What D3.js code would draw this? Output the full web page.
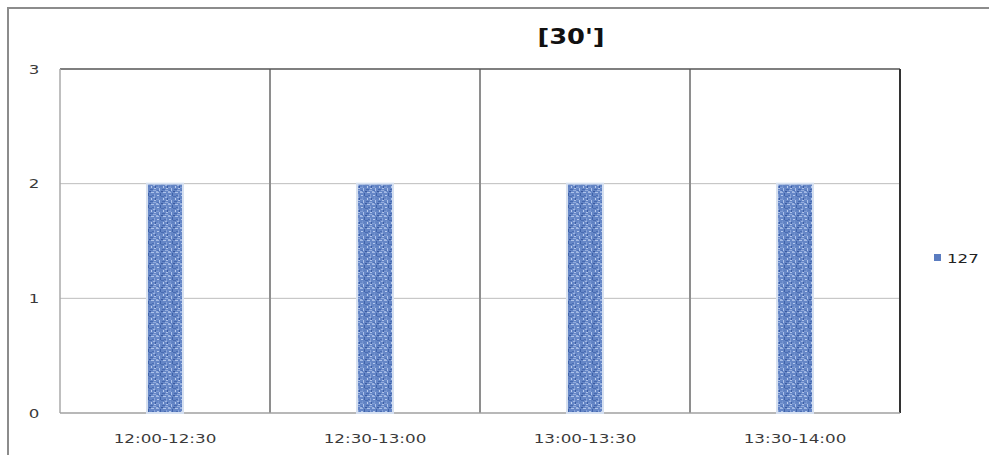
<!DOCTYPE html>
<html><head><meta charset="utf-8">
<script src="https://cdn.jsdelivr.net/npm/d3@7"></script>
<style>body{margin:0;background:#fff}svg{display:block}</style>
</head><body>
<script>
const categories = ["12:00-12:30","12:30-13:00","13:00-13:30","13:30-14:00"];
const values = [2,2,2,2];
const yTicks = [0,1,2,3];
const seriesName = "127";
const title = "[30']";

const W=989,H=455;
const FONT="DejaVu Sans, Verdana, sans-serif";
const svg=d3.select("body").append("svg").attr("width",W).attr("height",H);
const m={l:60,t:69,r:900,b:413};
const x=d3.scaleBand().domain(categories).range([m.l,m.r]).paddingInner(0).paddingOuter(0);
const y=d3.scaleLinear().domain([0,3]).range([m.b,m.t]);

// texture pattern (style only)
const defs=svg.append("defs");
const pat=defs.append("pattern").attr("id","tex").attr("patternUnits","userSpaceOnUse").attr("width",12).attr("height",12);
pat.append("rect").attr("width",12).attr("height",12).attr("fill","#6586c6");
const cells=[[0,0,3,1,"#a3b9e4"],[4,1,1,3,"#3f63aa"],[7,0,3,1,"#aec3ea"],[10,2,1,3,"#85a1d8"],[1,3,2,1,"#b6caee"],[5,4,3,1,"#4a6db3"],[9,5,2,1,"#9fb6e2"],[11,6,1,2,"#3c5ea5"],[0,7,3,1,"#809dd5"],[3,8,1,3,"#adc2ea"],[6,9,3,1,"#4669b0"],[9,10,3,1,"#94addd"],[1,10,2,1,"#5073b8"],[7,6,1,2,"#b8cbee"],[2,5,1,2,"#7393cf"],[8,3,2,1,"#4b6eb4"],[0,11,2,1,"#9ab3e1"],[5,11,2,1,"#39599f"],[10,8,2,1,"#b0c4eb"],[4,6,2,1,"#5c7fc1"]];
cells.forEach(c=>pat.append("rect").attr("x",c[0]).attr("y",c[1]).attr("width",c[2]).attr("height",c[3]).attr("fill",c[4]));

// outer border
svg.append("path").attr("d",`M8,${H} V8 H${W}`).attr("fill","none").attr("stroke","#8c8c8c").attr("stroke-width",2);

// gridlines
svg.append("g").selectAll("line").data(yTicks.filter(d=>d>0&&d<3)).join("line")
 .attr("x1",m.l).attr("x2",m.r).attr("y1",d=>y(d)).attr("y2",d=>y(d)).attr("stroke","#bdbdbd").attr("stroke-width",1);

// category separators
svg.append("g").selectAll("line").data(categories.slice(1)).join("line")
 .attr("x1",d=>x(d)).attr("x2",d=>x(d)).attr("y1",m.t).attr("y2",m.b).attr("stroke","#8e8e8e").attr("stroke-width",2);

// plot borders
svg.append("line").attr("x1",m.l).attr("x2",m.r).attr("y1",m.t).attr("y2",m.t).attr("stroke","#555").attr("stroke-width",1.5);
svg.append("line").attr("x1",m.l).attr("x2",m.l).attr("y1",m.t).attr("y2",m.b).attr("stroke","#aaa").attr("stroke-width",1.5);
svg.append("line").attr("x1",m.r).attr("x2",m.r).attr("y1",m.t).attr("y2",m.b).attr("stroke","#333").attr("stroke-width",2);
svg.append("line").attr("x1",m.l).attr("x2",m.r).attr("y1",m.b).attr("y2",m.b).attr("stroke","#a0a0a0").attr("stroke-width",1.5);

// bars
const bw=36;
svg.append("g").selectAll("rect").data(values).join("rect")
 .attr("x",(d,i)=>x(categories[i])+x.bandwidth()/2-bw/2)
 .attr("y",d=>y(d)).attr("width",bw).attr("height",d=>y(0)-y(d))
 .attr("fill","url(#tex)").attr("stroke","#d6e0f0").attr("stroke-width",2);

// stretched text helper
function stext(g,tx,ty,str,size,sx,opts={}){
  return g.append("text").attr("transform",`translate(${tx},${ty}) scale(${sx},1)`)
   .attr("font-family",FONT).attr("font-size",size).attr("fill",opts.fill||"#3a3a3a")
   .attr("text-anchor",opts.anchor||"middle").attr("dy",opts.dy||null)
   .attr("font-weight",opts.weight||null).text(str);
}

// y axis labels
const gy=svg.append("g");
yTicks.forEach(d=>stext(gy,34,y(d),d,13,1.28,{dy:"0.35em"}));

// x labels
const gx=svg.append("g");
categories.forEach(d=>stext(gx,x(d)+x.bandwidth()/2,443,d,13,1.29));

// title
stext(svg,571,44,title,22,1.17,{weight:"bold",fill:"#111"});

// legend
svg.append("rect").attr("x",934).attr("y",254).attr("width",7).attr("height",7).attr("fill","#5a7cc0");
stext(svg,947,258,seriesName,13,1.28,{anchor:"start",dy:"0.35em",fill:"#222"});
</script>
</body></html>
